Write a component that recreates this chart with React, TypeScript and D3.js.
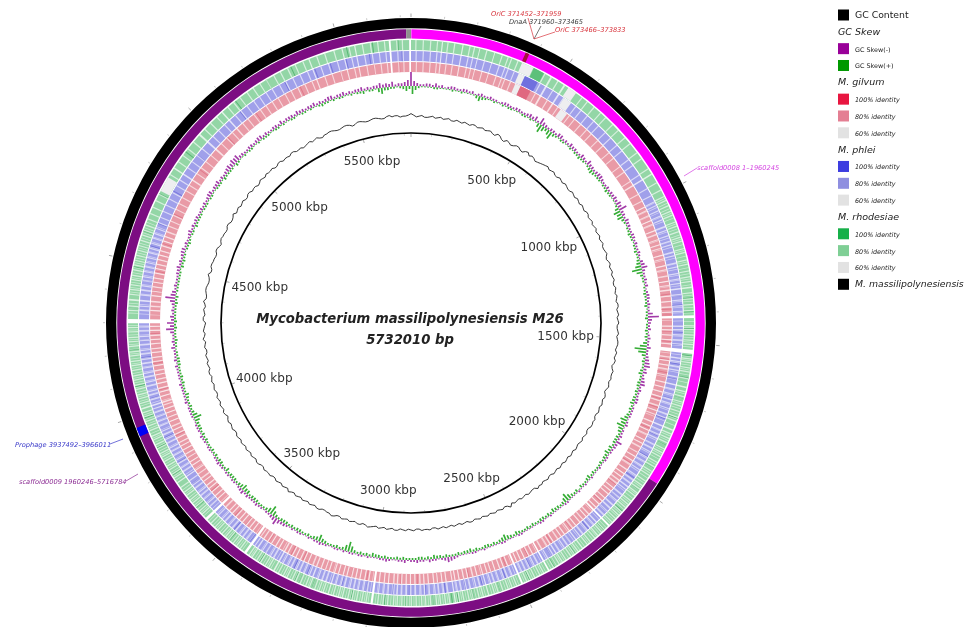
import React from "react";
import * as d3 from "d3";

const GENOME_BP = 5732010;
const GENOME = GENOME_BP / 1000;

const backbone = [
  { start: 1, end: 1960.245, color: "#ff00ff" },
  { start: 1960.246, end: 5716.784, color: "#7c0a82" },
  { start: 5716.785, end: 5732.01, color: "#8f8f8f" },
];
const markers = [
  { start: 366, end: 378, color: "#a8103c" },
  { start: 3937.492, end: 3966.011, color: "#0000f5" },
];

const tickLabels = [500, 1000, 1500, 2000, 2500, 3000, 3500, 4000, 4500, 5000, 5500];

const strongGaps = [
  [1408, 1417], [1520, 1533], [2990, 2997], [3432, 3440], [3598, 3606],
  [4298, 4312], [5660, 5666], [5726, 5732], [2157, 2163], [2400, 2405], [2495, 2501],
];
const softGaps = [
  [100, 104], [167, 171], [223, 226], [273, 276], [925, 930], [1315, 1320], [1640, 1645],
  [1785, 1790], [2270, 2274], [2610, 2614], [2720, 2724], [3135, 3139], [3325, 3330],
  [3750, 3754], [4015, 4020], [4372, 4377], [4825, 4830], [4960, 4966], [5063, 5068],
  [5393, 5397], [5505, 5509], [5547, 5551], [470, 476], [520, 526],
];
const lightStripes = [
  14, 38, 62, 84, 118, 140, 190, 205, 246, 298, 318, 330, 352, 448, 496, 540, 590, 612, 640, 668,
  690, 722, 748, 780, 805, 842, 866, 905, 958, 985, 1008, 1022, 1041, 1060, 1074, 1098, 1112, 1131, 1150, 1163,
  1188, 1201, 1226, 1240, 1262, 1281, 1296, 1333, 1352, 1371, 1390, 1440, 1452, 1470, 1487, 1501, 1548, 1560, 1577, 1590,
  1612, 1655, 1672, 1690, 1704, 1722, 1741, 1755, 1799, 1815, 1830, 1852, 1866, 1880, 1901, 1918, 1935, 1950, 1972, 1990,
  2004, 2019, 2031, 2052, 2066, 2079, 2098, 2112, 2127, 2143, 2178, 2190, 2206, 2219, 2238, 2251, 2288, 2302, 2316, 2335,
  2349, 2361, 2382, 2419, 2433, 2451, 2466, 2480, 2515, 2531, 2544, 2562, 2578, 2591, 2628, 2642, 2661, 2675, 2692, 2706,
  2738, 2752, 2768, 2781, 2800, 2816, 2829, 2847, 2863, 2878, 2894, 2909, 2921, 2940, 2955, 2972, 3010, 3024, 3041, 3056,
  3070, 3088, 3101, 3118, 3152, 3166, 3181, 3199, 3212, 3231, 3247, 3260, 3278, 3291, 3309, 3345, 3358, 3376, 3390, 3408,
  3420, 3455, 3470, 3484, 3502, 3516, 3531, 3549, 3562, 3580, 3621, 3634, 3652, 3668, 3681, 3699, 3712, 3731, 3768, 3782,
  3799, 3813, 3830, 3846, 3859, 3877, 3891, 3908, 3921, 3940, 3956, 3972, 3988, 4002, 4033, 4049, 4062, 4080, 4094, 4111,
  4125, 4143, 4158, 4172, 4190, 4203, 4221, 4236, 4250, 4268, 4282, 4338, 4352, 4390, 4406, 4421, 4438, 4452, 4470, 4486,
  4501, 4518, 4535, 4550, 4568, 4586, 4602, 4620, 4641, 4660, 4682, 4705, 4728, 4752, 4779, 4801, 4850, 4875, 4902, 4930,
  4985, 5012, 5040, 5088, 5112, 5138, 5166, 5190, 5216, 5240, 5268, 5292, 5318, 5345, 5372, 5420, 5447, 5478, 5528, 5572,
  5598, 5622, 5644, 5684, 5702,
];
const fineStripes = [
  1016, 1033, 1052, 1068, 1085, 1105, 1122, 1143, 1157, 1176, 1195, 1214, 1233, 1252, 1272, 1289, 1308, 1342, 1361, 1381,
  1399, 1427, 1446, 1461, 1479, 1494, 1510, 1541, 1554, 1569, 1584, 1601, 1626, 1663, 1681, 1697, 1713, 1732, 1748, 1770,
  1807, 1823, 1841, 1859, 1873, 1890, 1910, 1926, 1943, 1961, 1981, 1997, 2011, 2025, 2042, 2059, 2073, 2088, 2105, 2119,
  2135, 2150, 2170, 2184, 2198, 2212, 2228, 2245, 2262, 2281, 2295, 2309, 2326, 2342, 2355, 2372, 2392, 2412, 2426, 2442,
  2459, 2473, 2488, 2508, 2523, 2538, 2553, 2570, 2585, 2600, 2621, 2635, 2652, 2668, 2684, 2699, 2714, 2745, 2760, 2775,
  2790, 2808, 2822, 2838, 2855, 2870, 2886, 2901, 2915, 2931, 2948, 2963, 2981, 3004, 3017, 3032, 3049, 3063, 3079, 3095,
  3109, 3126, 3145, 3159, 3173, 3190, 3205, 3222, 3239, 3254, 3269, 3285, 3300, 3318, 3338, 3352, 3367, 3383, 3399, 3414,
  3448, 3463, 3477, 3493, 3509, 3523, 3540, 3556, 3571, 3590, 3614, 3628, 3643, 3660, 3675, 3690, 3706, 3722, 3760, 3775,
  3790, 3806, 3822, 3838, 3853, 3868, 3884, 3900, 3915, 3931, 3948, 3964, 3980, 3995, 4026, 4041, 4056, 4071, 4087, 4103,
  4118, 4134, 4151, 4165, 4181, 4197, 4212, 4228, 4243, 4259, 4275, 4290, 4330, 4345, 4362, 4398, 4413, 4430, 4445, 4461,
  4478, 4494, 4510, 4527, 4543, 4559, 4577, 4594, 4611, 4630,
];

const redDark = [
  1330, 1382, 1395, 1402, 1460, 1496, 1560, 1606, 1700, 1732, 1810, 1905, 1948, 2040, 2120,
  2210, 2260, 2345, 2440, 2525, 2580, 2660, 2770, 2842, 2900, 3020, 3075, 3170, 3255, 3300, 3390, 3490, 3540, 3660, 3802,
  3890, 3960, 4060, 4155, 4260, 4410, 4480, 4580, 4690, 4870, 5020, 5150, 5330, 5480, 5600, 5690,
];
const blueDark = [
  1340, 1370, 1462, 1505, 1570, 1622, 1690, 1760, 1822, 1900, 1985, 2070, 2130,
  2215, 2290, 2370, 2450, 2540, 2622, 2680, 2748, 2815, 2870, 2925, 3015, 3100, 3222, 3270, 3380, 3444, 3510, 3625, 3720,
  3805, 3900, 4040, 4180, 4240, 4440, 4560, 4640, 4760, 4905, 5110, 5290, 5400, 5455, 5510, 5590, 5700,
];
const greenDark = [
  1350, 1395, 1450, 1538, 1610, 1680, 1745, 1840, 1925, 2010, 2095, 2180, 2300, 2380, 2470,
  2570, 2660, 2710, 2730, 2790, 2880, 2950, 3060, 3190, 3238, 3252, 3380, 3500, 3650, 3780, 3880, 3985, 4090, 4210, 4345,
  4480, 4600, 4730, 4890, 5120, 5240, 5330, 5520, 5605, 5688,
];
const paleRed = [[375, 395], [557, 585]];
const paleBlue = [[372, 394], [545, 574]];
const paleGreen = [[368, 408], [538, 568], [4742, 4792]];

const skewMinus = [
  14, 3, 2, 3, 4, 3, 2, 3, 2, 3, 3, 2, 2, 3, 2, 2, 3, 2, 3, 2,
  4, 5, 7, 3, 3, 2, 4, 3, 4, 3, 2, 3, 5, 3, 3, 4, 2, 3, 3, 4,
  5, 8, 3, 4, 3, 2, 3, 3, 2, 2, 3, 6, 2, 3, 3, 2, 3, 3, 2, 11,
  3, 3, 2, 2, 4, 2, 4, 6, 4, 3, 5, 3, 2, 3, 2, 2, 1, 3, 2, 3,
  6, 3, 2, 2, 1, 2, 1, 2, 1, 1, 2, 1, 1, 2, 1, 1, 2, 1, 2, 1,
  1, 1, 2, 1, 1, 2, 1, 1, 2, 1, 2, 1, 1, 3, 5, 2, 2, 3, 2, 3,
  2, 3, 2, 1, 3, 2, 1, 2, 2, 1, 2, 2, 2, 1, 2, 3, 2, 2, 1, 2,
  2, 2, 3, 7, 3, 2, 2, 3, 2, 3, 4, 2, 2, 1, 2, 2, 3, 2, 1, 2,
  2, 3, 2, 2, 1, 2, 2, 3, 2, 2, 3, 2, 2, 3, 3, 2, 4, 3, 2, 8,
  7, 4, 3, 3, 10, 4, 3, 2, 3, 4, 3, 3, 4, 3, 2, 4, 3, 3, 2, 3,
  3, 3, 4, 3, 4, 3, 3, 5, 6, 6, 3, 2, 3, 3, 4, 3, 2, 3, 4, 3,
  3, 4, 3, 3, 4, 3, 3, 4, 3, 4, 3, 3, 4, 3, 3, 5, 4, 5, 3, 4,
];
const skewMinusFine = [
  5, 2, 3, 2, 2, 1, 3, 2, 3, 2, 1, 3, 2, 2, 1, 3, 2, 3, 2, 3,
  3, 2, 4, 2, 3, 4, 2, 2, 3, 2, 4, 2, 3, 2, 4, 3, 2, 2, 3, 3,
  4, 3, 2, 3, 2, 3, 2, 2, 3, 1, 4, 3, 2, 2, 1, 3, 2, 2, 5, 4,
  2, 1, 3, 2, 2, 3, 5, 3, 2, 4, 2, 2, 3, 1, 2, 2, 2, 1, 2, 2,
  3, 2, 1, 2, 1, 1, 1, 1, 2, 1, 1, 1, 2, 1, 1, 1, 1, 2, 1, 1,
  1, 2, 1, 1, 2, 1, 1, 1, 1, 2, 1, 1, 2, 4, 3, 1, 2, 1, 2, 2,
  1, 2, 1, 2, 2, 1, 1, 1, 2, 2, 1, 1, 2, 1, 2, 2, 1, 1, 2, 1,
  1, 3, 4, 4, 2, 1, 2, 2, 2, 2, 3, 1, 2, 2, 1, 2, 2, 1, 2, 1,
  2, 1, 2, 1, 2, 2, 1, 2, 2, 2, 1, 2, 2, 1, 2, 2, 2, 2, 4, 4,
  3, 2, 2, 5, 5, 2, 2, 2, 3, 2, 2, 4, 2, 2, 3, 2, 2, 3, 2, 2,
  2, 4, 2, 3, 2, 2, 4, 4, 5, 3, 2, 3, 2, 4, 2, 2, 3, 2, 2, 3,
  2, 3, 2, 3, 2, 2, 4, 2, 3, 2, 2, 3, 2, 2, 3, 3, 3, 2, 3, 6,
];
const skewPlus = [
  8, 2, 1, 1, 2, 1, 1, 1, 2, 1, 1, 5, 2, 1, 1, 2, 2, 1, 1, 2,
  2, 1, 8, 3, 8, 2, 2, 1, 2, 2, 3, 2, 2, 4, 2, 2, 2, 3, 2, 1,
  2, 7, 6, 2, 2, 3, 2, 2, 3, 2, 4, 10, 3, 2, 2, 3, 2, 3, 2, 3,
  2, 3, 3, 4, 12, 4, 3, 2, 4, 2, 3, 3, 3, 4, 3, 3, 7, 8, 4, 3,
  3, 4, 5, 3, 3, 2, 3, 4, 2, 3, 3, 3, 8, 3, 3, 4, 3, 3, 2, 3,
  3, 2, 4, 3, 6, 3, 3, 3, 2, 3, 4, 3, 3, 2, 3, 3, 4, 3, 3, 2,
  2, 3, 3, 2, 3, 3, 4, 3, 3, 3, 10, 3, 3, 2, 3, 7, 3, 3, 2, 3,
  3, 3, 3, 3, 9, 3, 2, 3, 3, 4, 6, 3, 3, 3, 4, 2, 3, 3, 3, 2,
  3, 3, 3, 3, 8, 3, 3, 2, 4, 2, 3, 3, 2, 3, 3, 2, 2, 3, 2, 3,
  3, 2, 2, 3, 3, 2, 2, 2, 2, 3, 3, 2, 2, 3, 1, 2, 3, 2, 2, 2,
  2, 2, 1, 2, 2, 3, 2, 2, 3, 1, 2, 2, 1, 2, 2, 2, 1, 2, 2, 1,
  2, 1, 2, 2, 1, 3, 2, 2, 2, 1, 2, 2, 3, 2, 1, 6, 3, 2, 2, 5,
];
const skewPlusFine = [
  4, 1, 1, 2, 1, 1, 2, 1, 1, 1, 3, 3, 1, 2, 1, 1, 2, 1, 2, 1,
  1, 4, 5, 5, 3, 1, 2, 1, 1, 2, 2, 1, 3, 3, 2, 1, 2, 2, 1, 1,
  4, 5, 3, 1, 2, 2, 1, 2, 2, 3, 6, 6, 2, 1, 2, 2, 2, 1, 2, 1,
  2, 2, 2, 7, 8, 2, 2, 3, 2, 3, 2, 2, 3, 2, 2, 4, 5, 5, 2, 3,
  2, 3, 3, 2, 2, 2, 2, 3, 2, 1, 2, 5, 5, 2, 3, 2, 2, 3, 2, 2,
  2, 3, 2, 4, 4, 2, 2, 3, 2, 2, 3, 2, 2, 2, 2, 3, 2, 2, 3, 2,
  2, 2, 2, 2, 2, 3, 2, 2, 2, 6, 6, 2, 2, 2, 4, 4, 2, 2, 3, 2,
  2, 3, 2, 5, 5, 2, 2, 3, 2, 4, 4, 2, 3, 2, 2, 3, 2, 2, 2, 2,
  2, 2, 3, 5, 5, 2, 2, 3, 2, 2, 2, 2, 2, 3, 2, 1, 2, 2, 2, 2,
  2, 2, 2, 2, 1, 2, 2, 2, 1, 2, 2, 1, 2, 2, 2, 1, 2, 2, 1, 2,
  1, 2, 1, 2, 1, 2, 2, 1, 2, 1, 1, 2, 1, 1, 2, 1, 2, 1, 1, 2,
  1, 2, 1, 1, 2, 2, 1, 1, 2, 1, 1, 2, 1, 2, 4, 3, 2, 1, 3, 3,
];
const gcContent = [
  3, -1, 1, -1, 1, 0, -1, 1, -1, 0, 1, -1, 1, 0, -1, 1, -2, 0, -4, -2,
  -3, -1, -4, 0, -1, -4, -2, 0, -1, 1, -1, 0, 1, -1, 1, -1, 0, 1, -1, 1,
  0, -1, 1, 0, -1, 1, -1, 1, -2, 1, 0, -1, 1, -1, 0, 1, -1, 1, 0, -1,
  1, -1, 1, 0, 1, -1, 0, 1, -2, 1, 0, -1, 1, -2, 1, 0, -1, 1, -1, 0,
  1, -1, 0, 1, -1, 1, 0, -1, 1, 0, -1, 1, -1, 0, 1, 2, -1, 1, 0, -1,
  1, 3, -1, 0, 1, -1, 0, 1, -1, 1, 0, -1, 1, 0, -1, 1, -1, 0, 1, -1,
  0, 1, -1, 1, 0, -1, 1, 0, 2, -1, 1, 0, -1, 1, -1, 2, 0, -1, 1, 0,
  -1, 1, 0, -1, 2, 0, -1, 1, -1, 0, 1, -1, 1, 0, -1, 1, 0, -1, 1, -1,
  0, 1, -2, 1, 0, -1, 1, -1, 0, 1, -1, 1, 0, -1, 1, -1, 0, 2, -1, 0,
  -2, 1, 0, -1, 2, -1, 1, 0, -1, 2, -1, 1, 0, -1, 1, -2, 1, 0, -1, 1,
  -1, 2, 0, -1, 1, -1, 1, 0, -2, 1, -1, 0, 1, -1, 1, 0, -1, 1, -1, -2,
  0, -1, 1, -2, 0, 1, -1, 0, 1, -2, 1, 0, -1, 1, 0, -1, 2, 1, -1, 0,
];
const gcContentFine = [
  1, 0, -1, 0, -1, 1, 0, -1, 1, -1, 0, 1, -1, 1, 0, -1, 1, -3, -1, -4,
  -1, -3, -1, -3, -2, -3, -1, 1, 0, -1, 1, -1, 0, -1, 0, 1, -1, 0, 1, -1,
  1, 0, -1, 1, 0, -1, 0, -1, 0, -1, 1, 0, -1, 1, -1, 0, 1, -1, 1, 0,
  -1, 0, -1, 1, 0, 1, -1, 0, -1, 0, 1, 0, -1, 0, -1, 1, 0, -1, 1, 1,
  -1, 1, -1, 0, 0, -1, 1, 0, -1, 1, 0, -1, 1, -1, 0, -1, 0, -1, 1, 0,
  -1, 0, 1, -1, 0, 1, -1, 0, 1, -1, 1, 0, -1, 1, 0, -1, 1, 0, -1, 1,
  -1, 0, 1, -1, 1, 0, -1, 1, 0, 1, -1, 1, 0, -1, 1, 0, -1, 1, -1, 1,
  0, -1, 1, 0, -1, 1, 0, -1, 1, 0, -1, 1, -1, 1, 0, -1, 1, 0, -1, 1,
  -1, 0, 0, -1, 1, 0, -1, 1, -1, 0, 1, -1, 1, 0, -1, 1, -1, 0, 1, -1,
  1, -1, 1, 0, -1, 0, 1, -1, 0, -1, 1, 0, -1, 1, -1, 0, 0, -1, 1, -1,
  0, -1, 1, 0, -1, 1, -1, 0, -1, 0, 1, 0, -1, 1, -1, 0, 1, -1, 0, -1,
  1, 0, -1, 0, 1, 0, -1, 1, 0, -1, 1, -1, 0, 1, -1, 1, 0, 1, 0, 1,
];

const annotations = [
  { text: "OriC 371452\u2013371959", color: "#d8343c", x: 491, y: 16, from: [528, 18], to: [534, 39] },
  { text: "DnaA 371960\u2013373465", color: "#3a3a3a", x: 509, y: 24, from: [541, 26], to: [534, 39] },
  { text: "OriC 373466\u2013373833", color: "#d8343c", x: 555, y: 32, from: [555, 32], to: [534, 39] },
  { text: "scaffold0008 1\u20131960245", color: "#d33ee0", x: 697, y: 170, from: [697, 168], to: [684, 176] },
  { text: "Prophage 3937492\u20133966011", color: "#3535c8", x: 15, y: 447, from: [110, 444], to: [123, 439] },
  { text: "scaffold0009 1960246\u20135716784", color: "#8a2a92", x: 19, y: 484, from: [126, 481], to: [138, 474] },
];

const legendRows = [
  { label: "GC Content", color: "#000000", kind: "plain" },
  { label: "GC Skew", color: "", kind: "head" },
  { label: "GC Skew(-)", color: "#990099", kind: "small" },
  { label: "GC Skew(+)", color: "#009900", kind: "small" },
  { label: "M. gilvum", color: "", kind: "head" },
  { label: "100% identity", color: "#e8123f", kind: "smallItalic" },
  { label: "80% identity", color: "#e47f93", kind: "smallItalic" },
  { label: "60% identity", color: "#e2e2e2", kind: "smallItalic" },
  { label: "M. phlei", color: "", kind: "head" },
  { label: "100% identity", color: "#3c3ce0", kind: "smallItalic" },
  { label: "80% identity", color: "#8f8fe0", kind: "smallItalic" },
  { label: "60% identity", color: "#e2e2e2", kind: "smallItalic" },
  { label: "M. rhodesiae", color: "", kind: "head" },
  { label: "100% identity", color: "#18b04a", kind: "smallItalic" },
  { label: "80% identity", color: "#7fcf95", kind: "smallItalic" },
  { label: "60% identity", color: "#e2e2e2", kind: "smallItalic" },
  { label: "M. massilipolynesiensis", color: "#000000", kind: "bottom" },
];

const W = 968, H = 627, CX = 411, CY = 323;
const FONT = "'DejaVu Sans', sans-serif";
const angle = d3.scaleLinear().domain([0, GENOME]).range([0, 2 * Math.PI]);
const arc = d3.arc<any>();
const band = (r0: number, r1: number, s: number, e: number) =>
  arc({ innerRadius: r0, outerRadius: r1, startAngle: angle(s), endAngle: angle(e) }) as string;

const rings = [
  { r0: 273, r1: 283, base: "#93d6a6", dark: "#5bb877", darks: greenDark, pale: paleGreen, boost: [[410, 446]], boostColor: "#5cc07a" },
  { r0: 262, r1: 272, base: "#a0a0ea", dark: "#7878dc", darks: blueDark, pale: paleBlue, boost: [[394, 442]], boostColor: "#6f6fde" },
  { r0: 251, r1: 261, base: "#e99aa6", dark: "#e07a8c", darks: redDark, pale: paleRed, boost: [[394, 434]], boostColor: "#e06880" },
];

const SKEW_R = 237, GC_R = 207;
const interleave = (a: number[], b: number[]) => d3.merge<number>(a.map((v, i) => [v, b[i]]));
const minusSeries = interleave(skewMinus, skewMinusFine);
const plusSeries = interleave(skewPlus, skewPlusFine);
const gcSeries = interleave(gcContent, gcContentFine);
const sampleAngle = d3.scaleLinear().domain([0, minusSeries.length]).range([0, 2 * Math.PI]);
const skewScale = d3.scaleLinear().domain([0, 14]).range([0, 14]);
const gcScale = d3.scaleLinear().domain([-4, 4]).range([GC_R - 3.2, GC_R + 3.2]);
const gcLine = d3.lineRadial<number>().angle((_, i) => sampleAngle(i)).radius((d) => gcScale(d)).curve(d3.curveLinearClosed);

function spokes(values: number[], dir: number) {
  const p = d3.path();
  values.forEach((v, i) => {
    const a = sampleAngle(i + (dir < 0 ? 0.5 : 0));
    const s = Math.sin(a), c = -Math.cos(a);
    p.moveTo(SKEW_R * s, SKEW_R * c);
    const r = SKEW_R + dir * skewScale(v);
    p.lineTo(r * s, r * c);
  });
  return p.toString();
}

export default function App() {
  const ticks = d3.range(0, GENOME, 100);
  return (
    <svg width={W} height={H} viewBox={`0 0 ${W} ${H}`} style={{ position: "absolute", left: 0, top: 0, background: "#fff" }} fontFamily={FONT}>
      <defs>
        <filter id="soft" x="-5%" y="-5%" width="110%" height="110%"><feGaussianBlur stdDeviation="0.75" /></filter>
        <filter id="softText" x="-5%" y="-20%" width="110%" height="140%"><feGaussianBlur stdDeviation="0.3" /></filter>
      </defs>
      <g transform={`translate(${CX},${CY})`} filter="url(#soft)">
        <path d={arc({ innerRadius: 294.7, outerRadius: 305, startAngle: 0, endAngle: 2 * Math.PI }) as string} fill="#000" />
        {backbone.map((b, i) => <path key={i} d={band(284.5, 293.8, b.start, b.end)} fill={b.color} />)}
        {markers.map((m, i) => <path key={i} d={band(284.5, 293.8, m.start, m.end)} fill={m.color} />)}
        {rings.map((r, ri) => (
          <g key={ri}>
            <path d={arc({ innerRadius: r.r0, outerRadius: r.r1, startAngle: 0, endAngle: 2 * Math.PI }) as string} fill={r.base} />
            {r.boost.map(([s, e], i) => <path key={`b${i}`} d={band(r.r0, r.r1, s, e)} fill={r.boostColor} />)}
            {r.darks.map((k, i) => <path key={`d${i}`} d={band(r.r0, r.r1, k, k + 3.5)} fill={r.dark} />)}
            {lightStripes.map((k, i) => <path key={`l${i}`} d={band(r.r0, r.r1, k + ri * 1.5, k + 4 + ri * 1.5)} fill="#fff" opacity={0.62} />)}
            {fineStripes.map((k, i) => <path key={`f${i}`} d={band(r.r0, r.r1, k - ri * 2, k + 2.5 - ri * 2)} fill="#fff" opacity={0.5} />)}
            {r.pale.map(([s, e], i) => <path key={`p${i}`} d={band(r.r0, r.r1, s, e)} fill="#eeeef0" />)}
          </g>
        ))}
        {softGaps.map(([s, e], i) => <path key={i} d={band(251, 283, s, e)} fill="#fff" opacity={0.7} />)}
        {strongGaps.map(([s, e], i) => <path key={i} d={band(250, 284, s, e)} fill="#fff" />)}
      </g>
      <g transform={`translate(${CX},${CY})`} filter="url(#softText)">
        <path d={spokes(minusSeries, 1)} fill="none" stroke="#a23aa8" strokeWidth={1.7} />
        <path d={spokes(plusSeries, -1)} fill="none" stroke="#35ad35" strokeWidth={1.7} />
        <path d={gcLine(gcSeries) as string} fill="none" stroke="#222" strokeWidth={0.9} />
        <circle r={190} fill="none" stroke="#000" strokeWidth={1.7} />
        {ticks.map((t) => {
          const a = angle(t), major = t % 500 === 0;
          const s = Math.sin(a), c = -Math.cos(a);
          return (
            <g key={t} stroke="#666" strokeWidth={0.7} opacity={major ? 0.8 : 0.5}>
              <line x1={306 * s} y1={306 * c} x2={(major ? 309.5 : 308) * s} y2={(major ? 309.5 : 308) * c} />
              <line x1={189 * s} y1={189 * c} x2={(major ? 186 : 187.5) * s} y2={(major ? 186 : 187.5) * c} />
            </g>
          );
        })}
      </g>
      <g filter="url(#softText)">
        {tickLabels.map((t) => {
          const a = angle(t);
          return (
            <text key={t} x={CX + 155 * Math.sin(a)} y={CY - 168 * Math.cos(a) + 4.5} textAnchor="middle" fontSize={12} fill="#333">{t} kbp</text>
          );
        })}
        <text x={410} y={323} textAnchor="middle" fontSize={13.2} fontWeight="bold" fontStyle="italic" fill="#222">Mycobacterium massilipolynesiensis M26</text>
        <text x={410} y={344} textAnchor="middle" fontSize={13.2} fontWeight="bold" fontStyle="italic" fill="#222">5732010 bp</text>
        {annotations.map((n, i) => (
          <g key={i}>
            <text x={n.x} y={n.y} fontSize={6.65} fontStyle="italic" fill={n.color}>{n.text}</text>
            <line x1={n.from[0]} y1={n.from[1]} x2={n.to[0]} y2={n.to[1]} stroke={n.color} strokeWidth={0.7} />
          </g>
        ))}
        {legendRows.map((r, i) => {
          const y = 15 + i * 16.83;
          const isHead = r.kind === "head";
          return (
            <g key={i}>
              {!isHead && <rect x={838} y={y - 5.5} width={11} height={11} fill={r.color} />}
              <text
                x={isHead ? 838 : 855}
                y={y + 3}
                fontSize={isHead ? 9.5 : r.kind === "plain" ? 9.3 : r.kind === "bottom" ? 9.3 : 6.4}
                fontStyle={r.kind === "plain" || r.kind === "small" ? "normal" : "italic"}
                fill="#222"
              >{r.label}</text>
            </g>
          );
        })}
      </g>
    </svg>
  );
}
